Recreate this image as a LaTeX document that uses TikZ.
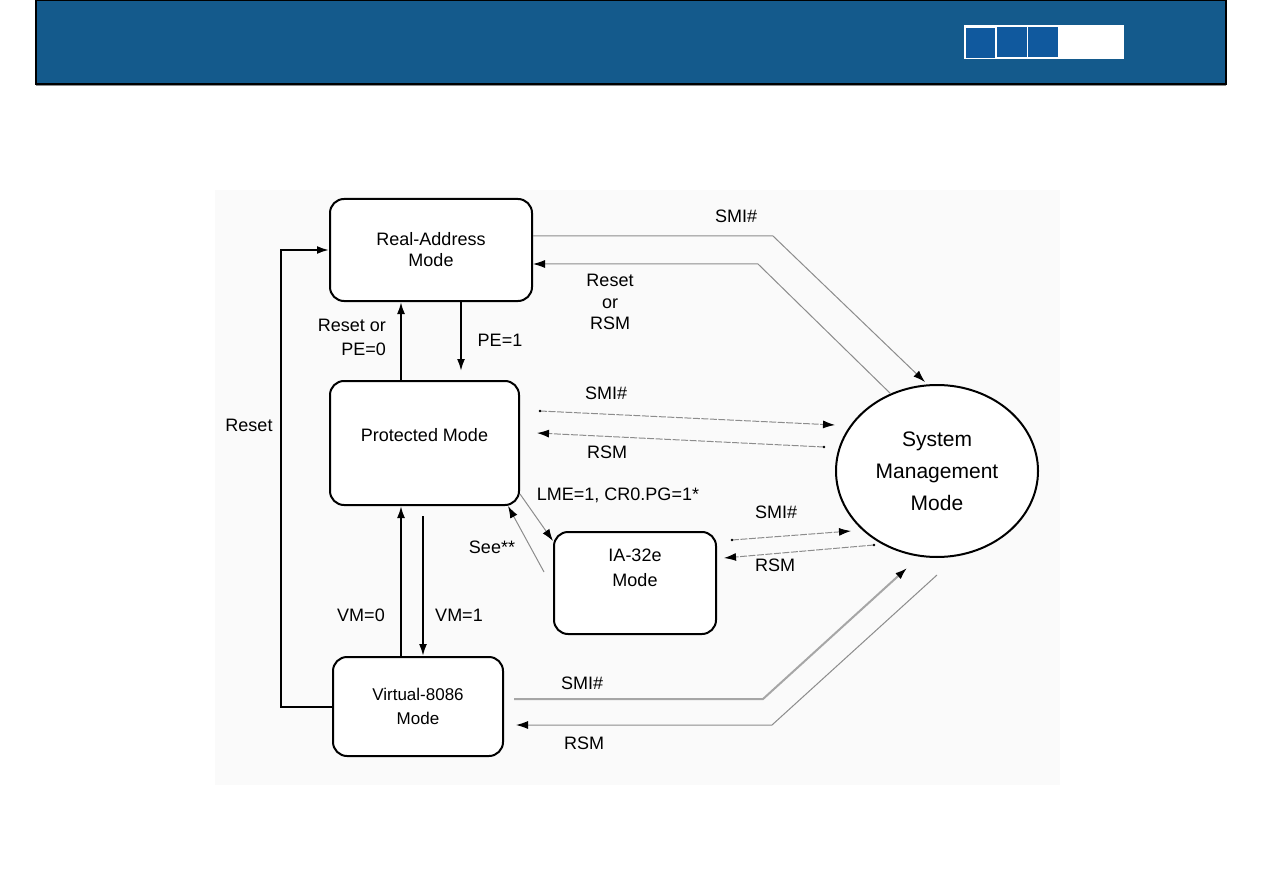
\documentclass[tikz,border=0pt]{standalone}
\usepackage{fontspec}
\setmainfont{Liberation Sans}
\usetikzlibrary{arrows.meta,shapes.geometric,calc}
\definecolor{hdrblue}{RGB}{20,90,140}
\definecolor{sqblue}{RGB}{16,89,158}
\definecolor{bgfaint}{RGB}{250,250,250}
\definecolor{lgray}{RGB}{140,140,140}
\begin{document}
\begin{tikzpicture}[x=1pt,y=-1pt,
  box/.style={draw,line width=2pt,rounded corners=14pt,fill=white,font=\fontsize{18}{21}\selectfont,align=center,inner sep=0pt},
  lbl/.style={font=\fontsize{18}{22}\selectfont,inner sep=0pt,align=center},
  blk/.style={line width=2pt,-{Latex[length=12pt,width=8pt]}},
  gry/.style={line width=1pt,draw=lgray,-{Latex[length=12pt,width=8pt,black]}},
  dgry/.style={gry,dash pattern=on 7pt off 1.5pt},
  tgry/.style={gry,line width=2pt,draw=black!35}
]
\useasboundingbox (0,0) rectangle (1263,893);
\fill[white] (0,0) rectangle (1263,893);
% header
\draw[black!45,line width=1.5pt] (36,85.5) -- (1226,85.5);
\filldraw[fill=hdrblue,draw=black,line width=1.5pt] (36,0) rectangle (1226,84);
\fill[white] (964,25) rectangle (1124,59);
\fill[sqblue] (966,28) rectangle (995,58);
\fill[sqblue] (997,27) rectangle (1027,57);
\fill[sqblue] (1028,27) rectangle (1058,57);
% faint picture background
\fill[bgfaint] (215,190) rectangle (1060,785);

% nodes
\node[box,minimum width=202pt,minimum height=102pt] (real) at (431,250) {Real-Address\\Mode};
\node[box,minimum width=189pt,minimum height=124pt,
  label={[lbl,yshift=8pt]center:Protected Mode}] (prot) at (424.5,443) {};
\node[box,minimum width=162pt,minimum height=102pt,
  label={[lbl,font=\fontsize{18}{25}\selectfont,yshift=15pt]center:IA-32e\\Mode}] (ia) at (635,583) {};
\node[box,minimum width=170pt,minimum height=99pt,font=\fontsize{17}{24}\selectfont] (v86) at (418,706.5) {Virtual-8086\\Mode};
\node[ellipse,draw,line width=2pt,fill=white,minimum width=202pt,minimum height=172pt,inner sep=0pt,
  align=center,font=\fontsize{21}{32}\selectfont] (smm) at (937,471) {System\\Management\\Mode};

% black connectors
\draw[blk] (v86.west) -- ++(-51pt,0) |- (real.west);
\draw[blk] ([xshift=-23.5pt]prot.north) -- ([xshift=-30pt]real.south);
\draw[blk] ([xshift=30pt]real.south) -- ([xshift=36.5pt,yshift=9pt]prot.north);
\draw[blk] ([xshift=-17pt]v86.north) -- ([xshift=-23.5pt]prot.south);
\draw[blk] ([xshift=-1.5pt,yshift=-10pt]prot.south) -- ([xshift=5pt]v86.north);

% gray connectors
\coordinate (b1) at (773,236);
\coordinate (b2) at (758,264);
\coordinate (b3) at (763,699);
\coordinate (b4) at (772,725);
\draw[gry] ([yshift=14pt]real.east) -- (b1) -- ([xshift=-12pt,yshift=2pt]smm.north);
\draw[gry] (smm.121) -- (b2) -- ([yshift=-14pt]real.east);
\draw[dgry] ([xshift=20pt,yshift=32pt]prot.east) -- ([yshift=46pt]smm.west);
\draw[dgry] ([xshift=-11pt,yshift=24pt]smm.west) -- ([xshift=17pt,yshift=10pt]prot.east);
\fill ([xshift=20pt,yshift=32pt]prot.east) circle (1.3pt);
\fill ([xshift=-11pt,yshift=24pt]smm.west) circle (1.3pt);
\draw[gry] ([yshift=12pt]prot.south east) -- ([yshift=-10pt]ia.north west);
\draw[gry] ([xshift=-9pt,yshift=-41pt]ia.north west) -- ([xshift=-12pt]prot.south east);
\draw[dgry] ([xshift=15pt,yshift=43pt]ia.east) -- ([xshift=16pt,yshift=-60pt]smm.west);
\draw[dgry] ([xshift=39pt,yshift=-74pt]smm.west) -- ([xshift=7pt,yshift=25pt]ia.east);
\fill ([xshift=15pt,yshift=43pt]ia.east) circle (1.3pt);
\fill ([xshift=39pt,yshift=-74pt]smm.west) circle (1.3pt);
\draw[tgry] ([xshift=10pt,yshift=7.5pt]v86.east) -- (b3) -- ([xshift=-30pt,yshift=-10pt]smm.south);
\draw[gry] ([yshift=-17pt]smm.south) -- (b4) -- ([xshift=12pt,yshift=-18.5pt]v86.east);

% labels
\node[lbl] (lreset) at (249,425) {Reset};
\node[lbl,align=right,anchor=east,font=\fontsize{18}{24}\selectfont] (lrpe) at (386,337) {Reset or\\PE=0};
\node[lbl] (lpe1) at (500,340) {PE=1};
\node[lbl,font=\fontsize{18}{21.5}\selectfont] (lrrsm) at (610,302) {Reset\\or\\RSM};
\node[lbl] (lsmi1) at (736,216) {SMI\#};
\node[lbl] (lsmi2) at (606,393) {SMI\#};
\node[lbl] (lrsm2) at (607,452) {RSM};
\node[lbl] (llme) at (618,495) {LME=1, CR0.PG=1*};
\node[lbl] (lsee) at (492,547) {See**};
\node[lbl] (lsmi3) at (776,512) {SMI\#};
\node[lbl] (lrsm3) at (775,565) {RSM};
\node[lbl] (lvm0) at (361,615) {VM=0};
\node[lbl] (lvm1) at (459,615) {VM=1};
\node[lbl] (lsmi4) at (582,683) {SMI\#};
\node[lbl] (lrsm4) at (584,743) {RSM};
\end{tikzpicture}
\end{document}
